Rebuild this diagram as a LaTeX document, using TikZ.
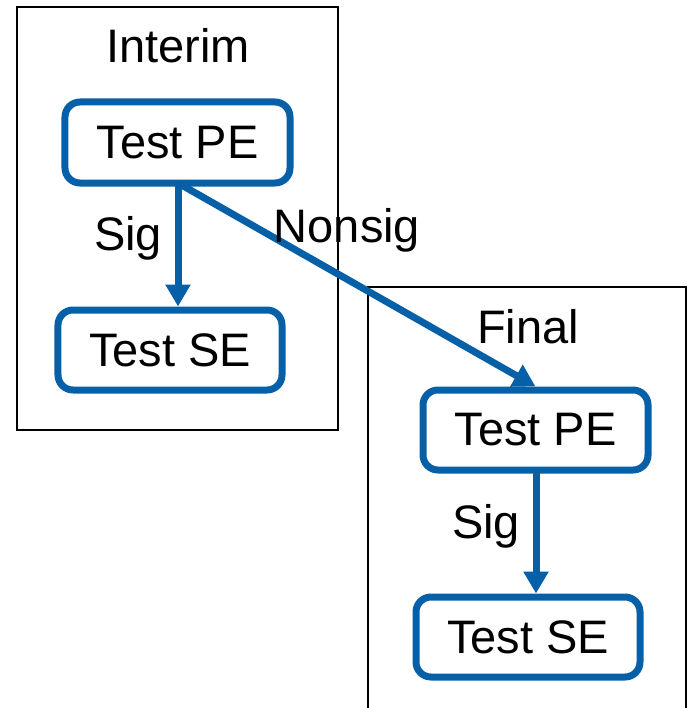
\documentclass[tikz,border=0pt]{standalone}
\usepackage{fontspec}
\setmainfont{Liberation Sans}
\usetikzlibrary{arrows.meta}
\definecolor{flowblue}{RGB}{6,96,167}
\tikzset{
  testbox/.style={draw=flowblue, line width=7bp, rounded corners=15bp, fill=white,
    inner sep=0pt, font=\fontsize{47bp}{56bp}\selectfont},
  lbl/.style={anchor=base, inner sep=0pt, font=\fontsize{47bp}{56bp}\selectfont},
  frame/.style={draw=black, line width=1.6bp},
  flow/.style={draw=flowblue, line width=7bp, -{Triangle[width=24bp,length=22bp]}}
}
\begin{document}
\begin{tikzpicture}[x=1bp,y=-1bp]
\useasboundingbox (0,0) rectangle (688,708);
% frames
\draw[frame] (17,7) rectangle (338,430);
\draw[frame] (368,708) -- (368,287) -- (686,287) -- (686,708);
% titles
\node[lbl] (tint) at (178,63) {Interim};
\node[lbl] (tfin) at (528,343) {Final};
% boxes
\node[testbox, minimum width=225bp, minimum height=81bp] (pe1) at (177.5,142.5) {Test PE};
\node[testbox, minimum width=224bp, minimum height=80bp] (se1) at (170,350) {Test SE};
\node[testbox, minimum width=225bp, minimum height=80bp] (pe2) at (535.5,430) {Test PE};
\node[testbox, minimum width=224bp, minimum height=80bp] (se2) at (528,637) {Test SE};
% connectors
\coordinate (s1) at (178,183);
\draw[flow] (s1) -- (se1.north -| s1);
\draw[flow] (s1) -- (pe2.north);
\coordinate (s2) at (536,470);
\draw[flow] (s2) -- (se2.north -| s2);
% labels
\node[lbl] (lsig1) at (128,250) {Sig};
\node[lbl] (lnon) at (347,242) {Nonsig};
\node[lbl] (lsig2) at (486,538) {Sig};
\end{tikzpicture}
\end{document}
